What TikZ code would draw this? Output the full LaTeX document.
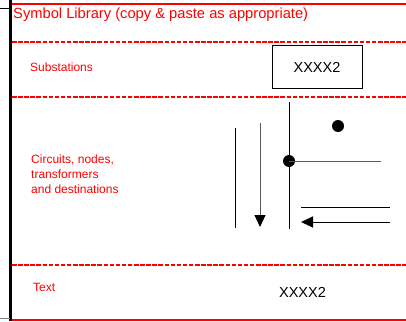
\documentclass[tikz,border=0pt]{standalone}
\usepackage{fontspec}
\setmainfont{Liberation Sans}
\usetikzlibrary{arrows.meta}
\definecolor{lred}{RGB}{255,0,0}
\definecolor{lgray}{RGB}{90,90,90}
\tikzset{
  redsolid/.style={draw=lred, line width=2pt},
  reddash/.style={draw=lred, line width=2pt, dash pattern=on 4.5pt off 1.6pt},
  redlabel/.style={text=lred, font=\fontsize{12}{15}\selectfont, anchor=west, inner sep=0pt, align=left},
  blacktext/.style={font=\fontsize{14.5}{17}\selectfont, inner sep=0pt},
  wire/.style={draw=black, line width=1pt},
  graywire/.style={draw=lgray, line width=1pt},
  tipstyle/.style={-{Triangle[length=12pt,width=11pt,color=black,fill=black]}},
  junction/.style={circle, fill=black, inner sep=0pt, minimum size=12pt},
}
\begin{document}
\begin{tikzpicture}[x=1pt,y=-1pt]
\useasboundingbox (0,0) rectangle (406,321);
% frame
\draw[line width=3pt] (10.5,0) -- (10.5,321);
\draw[line width=1pt] (0,9) -- (10,9);
\draw[line width=1pt, draw=gray] (0,318) -- (10,318);
\draw[redsolid] (12,4) -- (406,4);
\draw[redsolid] (12,320) -- (406,320);
\draw[reddash] (12,42) -- (406,42);
\draw[reddash] (12,97) -- (406,97);
\draw[reddash] (12,265) -- (406,265);
% title
\node[text=lred, font=\fontsize{14.7}{17}\selectfont, anchor=west, inner sep=0pt] (title) at (13,14.5) {Symbol Library (copy \& paste as appropriate)};
% labels
\node[redlabel] (subst) at (30,67) {Substations};
\node[redlabel] (circ) at (31,174) {Circuits, nodes,\\transformers\\and destinations};
\node[redlabel] (txtlbl) at (33,287) {Text};
% substation box
\node[draw=black, line width=1pt, minimum width=90pt, minimum height=42pt, inner sep=0pt, blacktext] (box) at (317,67) {XXXX2};
\node[blacktext] (txt) at (302.5,292) {XXXX2};
% circuit symbols
\coordinate (a1) at (235,128); \coordinate (a2) at (235,228);
\draw[wire] (a1) -- (a2);
\coordinate (b1) at (260,123); \coordinate (b2) at (260,227);
\draw[graywire, tipstyle] (b1) -- (b2);
\coordinate (c1) at (289,102); \coordinate (c2) at (289,229);
\draw[wire] (c1) -- (c2);
\node[junction] (j1) at (289,161) {};
\coordinate (h1) at (381,161);
\draw[graywire] (j1.center) -- (h1);
\node[junction] (j2) at (338,126) {};
\coordinate (d1) at (301,207); \coordinate (d2) at (390,207);
\draw[wire] (d1) -- (d2);
\coordinate (e1) at (390,222); \coordinate (e2) at (301,222);
\draw[wire, tipstyle] (e1) -- (e2);
\end{tikzpicture}
\end{document}
